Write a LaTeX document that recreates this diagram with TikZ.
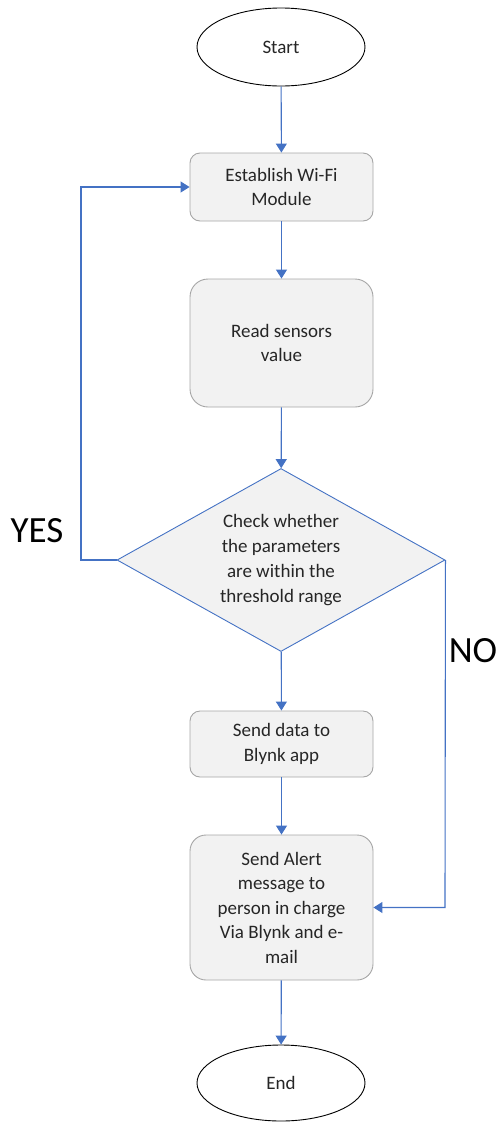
\documentclass[tikz,border=0pt]{standalone}
\usepackage{fontspec}
\setmainfont{Carlito}
\usetikzlibrary{arrows.meta,shapes.geometric}
\definecolor{lineblue}{HTML}{4472C4}
\definecolor{boxfill}{HTML}{F2F2F2}
\definecolor{boxedge}{HTML}{A6A6A6}
\definecolor{textgray}{HTML}{262626}
\tikzset{
  procbox/.style={draw=boxedge, fill=boxfill, rounded corners=#1, minimum width=183pt, align=center, font=\fontsize{19}{24.5}\selectfont, text=textgray, inner sep=0pt, line width=0.9pt},
  procbox/.default=10pt,
  term/.style={draw=black, ellipse, minimum width=168pt, minimum height=78pt, font=\fontsize{19}{24}\selectfont, text=textgray, line width=0.9pt},
  decision/.style={draw=lineblue, fill=boxfill, diamond, aspect=1.8, minimum width=328pt, minimum height=183pt, inner sep=0pt, align=center, font=\fontsize{19}{25}\selectfont, text=textgray, line width=0.9pt},
  flow/.style={draw=lineblue, line width=1.1pt, -{Triangle[length=9pt,width=11pt]}},
  biglabel/.style={font=\fontsize{37}{40}\selectfont, inner sep=0pt}
}
\begin{document}
\begin{tikzpicture}[x=1pt,y=-1pt]
\useasboundingbox (0,0) rectangle (497,1122);
\node[term] (start) at (281,47) {Start};
\node[procbox, minimum height=68pt] (wifi) at (281.5,187) {Establish Wi-Fi\\Module};
\node[procbox=18pt, minimum height=128pt] (read) at (281.5,343) {Read sensors\\value};
\node[decision] (check) at (281,560) {Check whether\\the parameters\\are within the\\threshold range};
\node[procbox, minimum height=66pt] (send) at (281.5,744) {Send data to\\Blynk app};
\node[procbox=16pt, minimum height=145pt] (alert) at (281.5,907.5) {Send Alert\\message to\\person in charge\\Via Blynk and e-\\mail};
\node[term, minimum height=76pt] (end) at (281,1083) {End};
\node[biglabel] (yes) at (37,531) {YES};
\node[biglabel] (no) at (473,651) {NO};
\coordinate (yl) at (81,560);
\coordinate (yt) at (81,187);
\coordinate (nr) at (445,560);
\coordinate (nb) at (445,907.5);
\draw[flow] (start) -- (wifi);
\draw[flow] (wifi) -- (read);
\draw[flow] (read) -- (check);
\draw[flow] (check) -- (send);
\draw[flow] (send) -- (alert);
\draw[flow] (alert) -- (end);
\draw[flow] (check.west) -- (yl) -- (yt) -- (wifi.west);
\draw[flow] (check.east) -- (nb) -- (alert.east);
\end{tikzpicture}
\end{document}
